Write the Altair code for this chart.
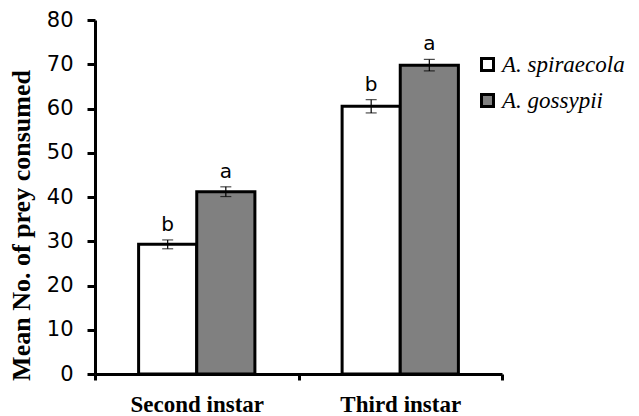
import altair as alt
import pandas as pd

instars = ["Second instar", "Second instar", "Third instar", "Third instar"]
species = ["A. spiraecola", "A. gossypii", "A. spiraecola", "A. gossypii"]
means = [29.3, 41.2, 60.5, 69.8]
errors = [1.0, 1.1, 1.5, 1.3]
letters = ["b", "a", "b", "a"]

instar_order = ["Second instar", "Third instar"]
species_order = ["A. spiraecola", "A. gossypii"]
fills = ["white", "#808080"]

df = pd.DataFrame({"instar": instars, "species": species, "mean": means,
                   "se": errors, "letter": letters})
df["lo"] = df["mean"] - df["se"]
df["hi"] = df["mean"] + df["se"]

x = alt.X("instar:N", sort=instar_order,
          scale=alt.Scale(paddingInner=0, paddingOuter=0),
          axis=alt.Axis(title=None, tickBand="extent", labelAngle=0,
                        labelFont="Liberation Serif", labelFontWeight="bold",
                        labelFontSize=23, labelColor="black",
                        domainColor="black", domainWidth=3,
                        tickColor="black", tickWidth=3, tickSize=6,
                        labelPadding=13))
xo = alt.XOffset("species:N", sort=species_order,
                 scale=alt.Scale(paddingInner=0, paddingOuter=0.75))
yscale = alt.Scale(domain=[0, 80])

bars = alt.Chart(df).mark_bar(stroke="black", strokeWidth=3).encode(
    x=x, xOffset=xo,
    y=alt.Y("mean:Q", scale=yscale,
            axis=alt.Axis(title="Mean No. of prey consumed", values=list(range(0, 81, 10)),
                          grid=False, labelFont="DejaVu Sans", labelFontSize=21,
                          labelColor="black", labelPadding=14,
                          domainColor="black", domainWidth=3,
                          tickColor="black", tickWidth=3, tickSize=8,
                          titleFont="Liberation Serif", titleFontWeight="bold",
                          titleFontSize=26, titleColor="black", titlePadding=12,
                          titleY=205)),
    fill=alt.Fill("species:N", sort=species_order,
                  scale=alt.Scale(domain=species_order, range=fills),
                  legend=alt.Legend(title=None, orient="none", legendX=381, legendY=33,
                                    symbolType="square", symbolSize=144,
                                    symbolStrokeColor="black", symbolStrokeWidth=3,
                                    labelFont="Liberation Serif", labelFontStyle="italic",
                                    labelFontSize=23, labelColor="black",
                                    labelOffset=3, rowPadding=11, padding=0)),
)

rules = alt.Chart(df).mark_rule(color="black", strokeWidth=1.2).encode(
    x=x, xOffset=xo, y=alt.Y("lo:Q", scale=yscale), y2="hi:Q")

caps_lo = alt.Chart(df).mark_tick(color="black", thickness=1.2, size=11).encode(
    x=x, xOffset=xo, y=alt.Y("lo:Q", scale=yscale))
caps_hi = alt.Chart(df).mark_tick(color="black", thickness=1.2, size=11).encode(
    x=x, xOffset=xo, y=alt.Y("hi:Q", scale=yscale))

labels = alt.Chart(df).mark_text(font="DejaVu Sans", fontSize=20, color="black",
                                 baseline="alphabetic", dy=-9).encode(
    x=x, xOffset=xo, y=alt.Y("hi:Q", scale=yscale), text="letter:N")

chart = alt.layer(bars, rules, caps_lo, caps_hi, labels).properties(
    width=407, height=354,
    autosize=alt.AutoSizeParams(type="none"),
    padding={"left": 87, "top": 12, "right": 129, "bottom": 42},
).configure_view(stroke=None)

chart.save("out.html", embed_options={"renderer": "svg", "actions": False})
